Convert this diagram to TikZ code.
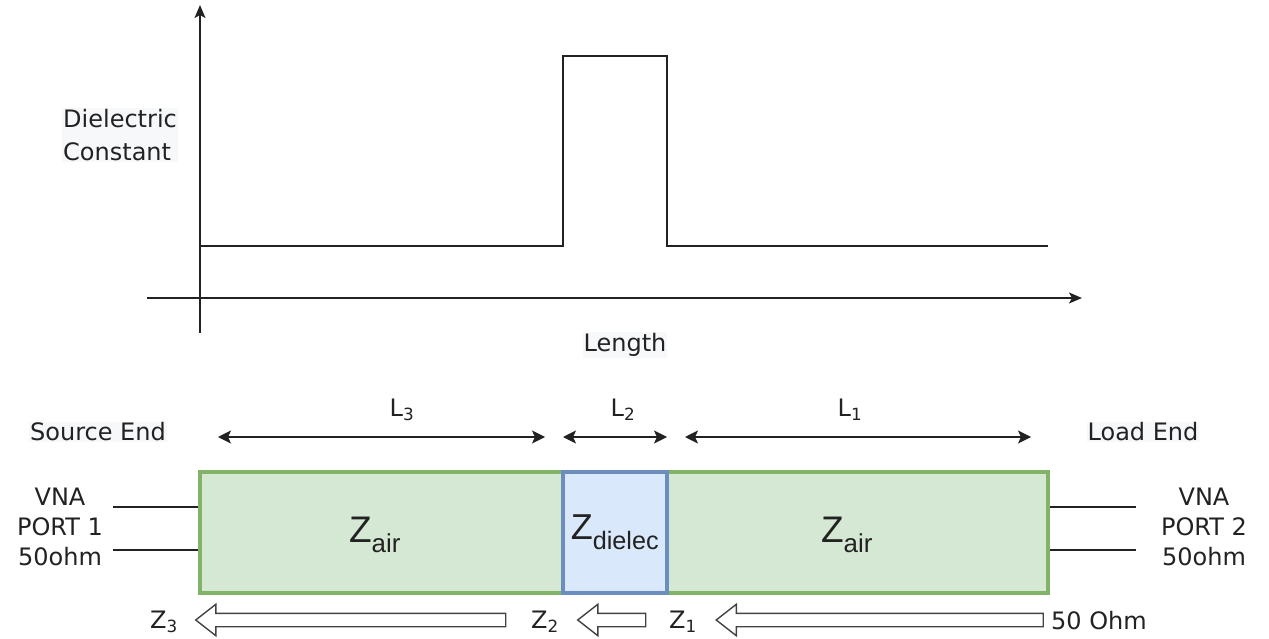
\documentclass[tikz,border=0pt]{standalone}
\usepackage{fontspec}
\setmainfont{DejaVu Sans}
\newfontfamily\zfont{Liberation Sans}
\usetikzlibrary{positioning, arrows.meta, shapes.arrows}

\definecolor{airfill}{HTML}{D5E8D4}
\definecolor{airline}{HTML}{82B366}
\definecolor{dielfill}{HTML}{DAE8FC}
\definecolor{dielline}{HTML}{6C8EBF}
\definecolor{txtbg}{HTML}{F7F8FA}
\definecolor{ink}{HTML}{222222}

\begin{document}
\begin{tikzpicture}[x=1pt, y=-1pt,
    arrow/.style={-{Stealth[length=13pt, width=11pt, inset=3pt]}, line width=1.6pt, ink},
    dimarrow/.style={{Stealth[length=13pt, width=13pt, inset=3pt]}-{Stealth[length=13pt, width=13pt, inset=3pt]}, line width=1.3pt, ink},
    txt/.style={font=\fontsize{24}{30}\selectfont, text=ink, inner sep=1pt},
    boxtxt/.style={txt, fill=txtbg},
    ztxt/.style={font=\zfont\fontsize{37}{40}\selectfont, text=ink},
    hollow/.style={single arrow, draw=ink!85, line width=1.4pt, fill=white,
        shape border rotate=180, minimum width=30pt, inner sep=0pt, text height=12pt,
        single arrow head extend=9pt, single arrow tip angle=76},
    airbox/.style={draw=airline, fill=airfill, line width=4pt, minimum height=121pt, inner sep=0pt},
    dielbox/.style={draw=dielline, fill=dielfill, line width=4pt, minimum height=121pt, inner sep=0pt}
]
    \useasboundingbox (0,0) rectangle (1269,639);

    % Axes
    \draw[arrow] (200,333) -- (200,5);
    \draw[arrow] (147,298) -- (1082,298);
    \node[boxtxt, align=left, anchor=west, font=\fontsize{24}{33}\selectfont] (ylab) at (62,135) {Dielectric\\Constant};
    \node[boxtxt] (xlab) at (625,345) {Length};

    % Dielectric profile
    \draw[line width=1.5pt, ink] (200,246) -- (563,246) -- (563,56) -- (667,56) -- (667,246) -- (1048,246);

    % Transmission line
    \node[airbox, minimum width=848pt] (line) at (624,532.5) {};
    \node[dielbox, minimum width=104pt] (diel) at (615,532.5) {};
    \node[ztxt] (zair3) at (375,535) {Z\textsubscript{air}};
    \node[ztxt, font=\zfont\fontsize{36}{40}\selectfont] (zdiel) at (diel) {Z\textsubscript{dielec}};
    \node[ztxt] (zair1) at (847,535) {Z\textsubscript{air}};

    % Ports
    \coordinate (p1a) at (113,507);
    \coordinate (p1b) at (113,550);
    \coordinate (p2a) at (1136,507);
    \coordinate (p2b) at (1136,550);
    \draw[line width=1.2pt, ink] (p1a) -- (p1a -| line.west);
    \draw[line width=1.2pt, ink] (p1b) -- (p1b -| line.west);
    \draw[line width=1.2pt, ink] (p2a) -- (p2a -| line.east);
    \draw[line width=1.2pt, ink] (p2b) -- (p2b -| line.east);
    \node[txt, align=center] (port1) at (60,527) {VNA\\PORT 1\\50ohm};
    \node[txt, align=center] (port2) at (1204,527) {VNA\\PORT 2\\50ohm};
    \node[boxtxt] (src) at (98,432) {Source End};
    \node[boxtxt] (load) at (1143,432) {Load End};

    % Lengths
    \coordinate (l3a) at (218,437);
    \coordinate (l3b) at (545,437);
    \coordinate (l2a) at (563,437);
    \coordinate (l2b) at (667,437);
    \coordinate (l1a) at (685,437);
    \coordinate (l1b) at (1031,437);
    \draw[dimarrow] (l3a) -- (l3b);
    \draw[dimarrow] (l2a) -- (l2b);
    \draw[dimarrow] (l1a) -- (l1b);
    \node[txt, font=\fontsize{24}{28}\selectfont] (L3) at (402,410) {L\textsubscript{3}};
    \node[txt, font=\fontsize{24}{28}\selectfont] (L2) at (623,410) {L\textsubscript{2}};
    \node[txt, font=\fontsize{24}{28}\selectfont] (L1) at (850,410) {L\textsubscript{1}};

    % Impedance looking towards the source
    \node[hollow, minimum height=327pt] (look1) at (884,620) {};
    \node[hollow, minimum height=68pt] (look2) at (616,620) {};
    \node[hollow, minimum height=310pt] (look3) at (355,620) {};
    \node[txt, anchor=west] (ohm) at (1050,621) {50 Ohm};
    \node[txt] (Z1) at (683,622) {Z\textsubscript{1}};
    \node[txt] (Z2) at (545,622) {Z\textsubscript{2}};
    \node[txt] (Z3) at (164,622) {Z\textsubscript{3}};

\end{tikzpicture}
\end{document}
